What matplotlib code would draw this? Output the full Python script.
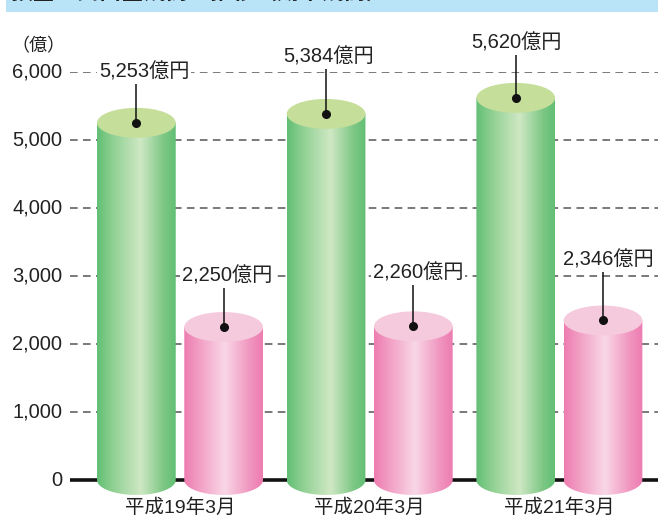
import numpy as np
import matplotlib
matplotlib.use("Agg")
import matplotlib.pyplot as plt
from matplotlib.colors import LinearSegmentedColormap
from matplotlib.patches import Ellipse, PathPatch, Rectangle
from matplotlib.path import Path

# data
periods = ["平成19年3月", "平成20年3月", "平成21年3月"]
green_vals = [5253, 5384, 5620]
pink_vals = [2250, 2260, 2346]
yticks = [0, 1000, 2000, 3000, 4000, 5000, 6000]
title = "預金・貸出金残高の推移（期末残高）"

# layout
FONT = ["Liberation Sans", "Noto Sans CJK JP"]
W, H = 658, 517
ell_h = 440          # ellipse height in data units
bar_w = 0.415
off = 0.23
label_gap = [747, 750, 836, 784, 806, 889]  # label height above top, order: g1,p1,g2,p2,g3,p3
label_dx = [0.04, 0.02, 0.015, 0.025, 0.005, 0.03]
YMIN, YMAX = -500, 6000
px_per = 408 / 6000

green_cmap = LinearSegmentedColormap.from_list(
    "g", [(0, "#62bf74"), (0.2, "#8fd092"), (0.55, "#cfe8c4"), (0.85, "#7cc784"), (1, "#62bf74")])
pink_cmap = LinearSegmentedColormap.from_list(
    "p", [(0, "#ed7cb0"), (0.2, "#f2a0c5"), (0.52, "#f9d7e6"), (0.85, "#f092be"), (1, "#ed7cb0")])

fig = plt.figure(figsize=(W / 100, H / 100), dpi=100)
fig.patch.set_facecolor("white")

# title band (clipped at top)
fig.patches.append(Rectangle((6 / W, 1 - 12 / H), 1, 12 / H, transform=fig.transFigure,
                             facecolor="#b9e4f8", edgecolor="none"))
fig.text(10 / W, 1 - 4 / H, title, family=FONT, fontsize=16, color="#222222",
         fontweight="bold", va="bottom", ha="left")
fig.text(11 / W, 1 - 47 / H, "（億）", family=FONT, fontsize=13, ha="left", va="center",
         color="#222222")

ax_h = (YMAX - YMIN) * px_per
ax = fig.add_axes([70 / W, 1 - (72 + ax_h) / H, 588 / W, ax_h / H])
ax.axis("off")

# grid lines
for v in yticks[1:]:
    ax.axhline(v, color="#555555", lw=1.1, ls=(0, (5, 3.5)), zorder=1)
for v in yticks:
    ax.text(-0.62, v, f"{v:,}", family=FONT, fontsize=14.5, ha="right", va="center",
            color="#222222", clip_on=False)
ax.axhline(0, color="#111111", lw=2.6, zorder=2)


def cylinder(xc, val, cmap, top_color, z):
    x0, x1 = xc - bar_w / 2, xc + bar_w / 2
    t = np.linspace(0, np.pi, 60)
    bx = xc + bar_w / 2 * np.cos(t)
    by = -ell_h / 2 * np.sin(t)
    verts = [(x0, val), (x1, val)] + list(zip(bx, by)) + [(x0, val)]
    codes = [Path.MOVETO] + [Path.LINETO] * (len(verts) - 2) + [Path.CLOSEPOLY]
    patch = PathPatch(Path(verts, codes), facecolor="none", edgecolor="none",
                      transform=ax.transData)
    ax.add_patch(patch)
    grad = np.linspace(0, 1, 256)[None, :]
    im = ax.imshow(grad, cmap=cmap, aspect="auto", extent=(x0, x1, -ell_h / 2, val),
                   zorder=z)
    im.set_clip_path(patch)
    ax.add_patch(Ellipse((xc, val), bar_w, ell_h, facecolor=top_color, edgecolor="none",
                         zorder=z + 0.1, clip_on=False))
    ax.plot([xc], [val], "o", color="#111111", ms=5.5, zorder=z + 0.3, clip_on=False)


labels = []
for i in range(len(periods)):
    cylinder(i - off, green_vals[i], green_cmap, "#c5df9b", 3)
    labels.append((i - off, green_vals[i], label_gap[2 * i], label_dx[2 * i]))
    cylinder(i + off, pink_vals[i], pink_cmap, "#f6cadd", 3)
    labels.append((i + off, pink_vals[i], label_gap[2 * i + 1], label_dx[2 * i + 1]))
    ax.text(i, -400, periods[i], family=FONT, fontsize=14, ha="center", va="center",
            color="#222222", clip_on=False)

ax.set_xlim(-0.58, 2.52)
ax.set_ylim(YMIN, YMAX)

for xc, val, gap, dx in labels:
    ty = val + gap
    ax.plot([xc, xc], [val, ty - 160], color="#111111", lw=1.1, zorder=5, clip_on=False)
    ax.text(xc + dx, ty, f"{val:,}億円", family=FONT, fontsize=14.5, ha="center",
            va="center", color="#222222", zorder=6, clip_on=False,
            bbox=dict(facecolor="white", edgecolor="none", pad=1.5))

fig.savefig("out.png", dpi=100)
